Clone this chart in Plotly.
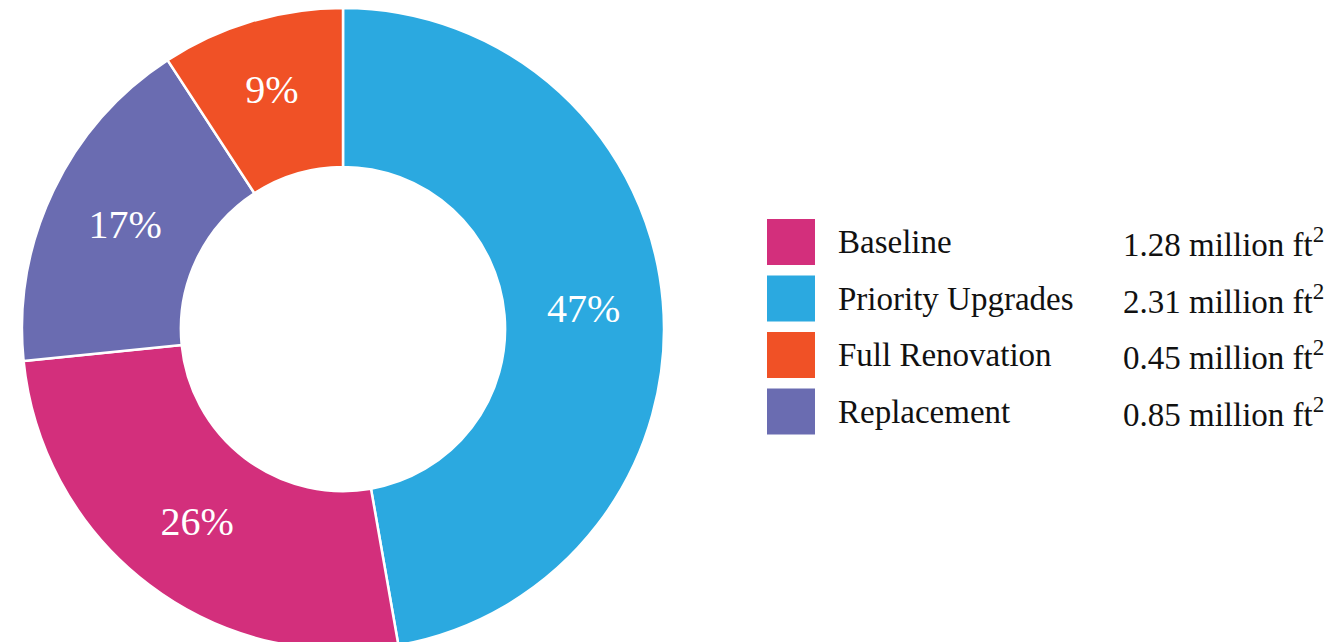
import plotly.graph_objects as go

# Data (legend order)
categories = ["Baseline", "Priority Upgrades", "Full Renovation", "Replacement"]
areas_million_ft2 = [1.28, 2.31, 0.45, 0.85]
colors = ["#D32F7C", "#2BA9E0", "#F05126", "#6A6CB1"]
value_labels = ["1.28 million ft<sup>2</sup>", "2.31 million ft<sup>2</sup>",
                "0.45 million ft<sup>2</sup>", "0.85 million ft<sup>2</sup>"]
# order of slices clockwise from 12 o'clock
pie_order = ["Priority Upgrades", "Baseline", "Replacement", "Full Renovation"]

W, H = 1336, 642
OFF = 8  # page body margin
FONT = "Liberation Serif, Times New Roman, serif"

idx = [categories.index(c) for c in pie_order]

cx = 343 - OFF
R = H / 2
fig = go.Figure()
fig.add_trace(go.Pie(
    labels=[categories[i] for i in idx],
    values=[areas_million_ft2[i] for i in idx],
    marker=dict(colors=[colors[i] for i in idx], line=dict(color="white", width=2.5)),
    hole=0.505,
    sort=False,
    direction="clockwise",
    rotation=0,
    texttemplate="%{percent:.0%}",
    textposition="inside",
    insidetextorientation="horizontal",
    textfont=dict(family=FONT, size=40, color="white"),
    showlegend=False,
    domain=dict(x=[(cx - R) / W, (cx + R) / W], y=[0, 1]),
))

# custom legend
shapes = []
annotations = []
box_w, box_h = 48, 46
x0 = 767 - OFF
y_top = 219 - OFF
step = 56.5
for k, (cat, col, vl) in enumerate(zip(categories, colors, value_labels)):
    yt = y_top + k * step
    shapes.append(dict(type="rect", xref="paper", yref="paper",
                       x0=x0 / W, x1=(x0 + box_w) / W,
                       y0=1 - (yt + box_h) / H, y1=1 - yt / H,
                       fillcolor=col, line=dict(width=0)))
    yc = 1 - (yt + box_h / 2) / H
    annotations.append(dict(xref="paper", yref="paper", x=(836 - OFF) / W, y=yc,
                            text=cat, showarrow=False, xanchor="left", yanchor="middle",
                            font=dict(family=FONT, size=33, color="#111111")))
    annotations.append(dict(xref="paper", yref="paper", x=(1121 - OFF) / W, y=yc,
                            text=vl, showarrow=False, xanchor="left", yanchor="middle",
                            font=dict(family=FONT, size=33, color="#111111")))

fig.update_layout(
    width=W, height=H,
    margin=dict(l=0, r=0, t=0, b=0),
    paper_bgcolor="white", plot_bgcolor="white",
    shapes=shapes, annotations=annotations,
)

fig.write_html("out.html")
